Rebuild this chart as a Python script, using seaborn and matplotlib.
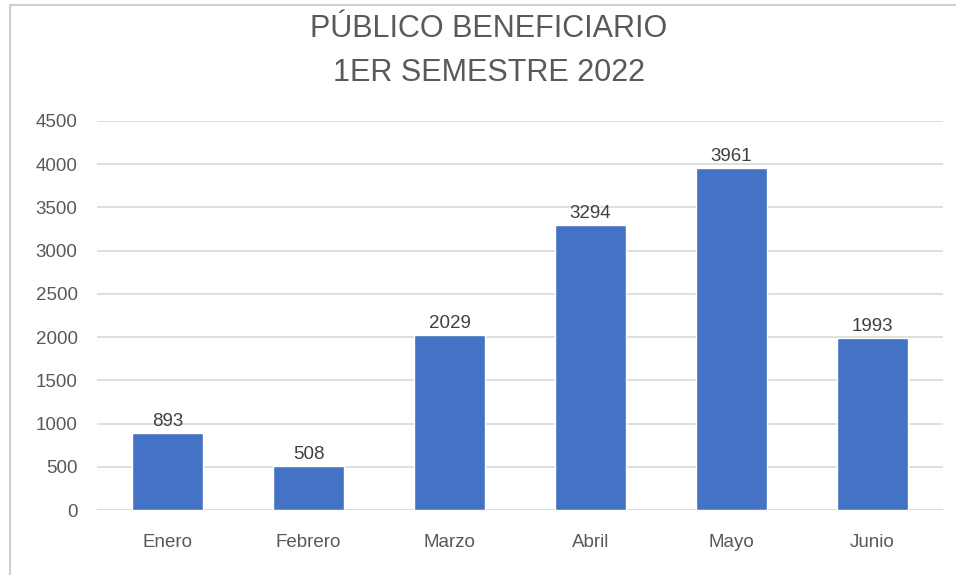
import pandas as pd
import matplotlib
matplotlib.use("Agg")
import matplotlib.pyplot as plt
import seaborn as sns
from matplotlib.lines import Line2D

# Data
meses = ["Enero", "Febrero", "Marzo", "Abril", "Mayo", "Junio"]
beneficiarios = [893, 508, 2029, 3294, 3961, 1993]
yticks = [0, 500, 1000, 1500, 2000, 2500, 3000, 3500, 4000, 4500]

df = pd.DataFrame({"Mes": meses, "Beneficiarios": beneficiarios})

sns.set_style("white")
plt.rcParams["font.family"] = ["Liberation Sans", "DejaVu Sans"]

text_color = "#595959"
grid_color = "#d9d9d9"

fig = plt.figure(figsize=(9.56, 5.75), dpi=100)
ax = fig.add_axes([0.1015, 0.113, 0.8849, 0.6766])

sns.barplot(data=df, x="Mes", y="Beneficiarios", color="#4472C4",
            width=0.5, saturation=1, ax=ax, zorder=3)

ax.set_ylim(0, 4500)
ax.set_yticks(yticks)
ax.set_xlim(-0.5, len(meses) - 0.5)
ax.yaxis.grid(True, color=grid_color, linewidth=1.2, zorder=0)
ax.set_axisbelow(True)
for s in ["top", "right", "left", "bottom"]:
    ax.spines[s].set_visible(False)
ax.axhline(0, color=grid_color, linewidth=1.2, zorder=1)

ax.tick_params(axis="y", length=0, pad=14, labelsize=13.5, labelcolor=text_color)
ax.tick_params(axis="x", length=0, pad=17, labelsize=13.5, labelcolor=text_color)
ax.set_xlabel("")
ax.set_ylabel("")

# value labels
for i, v in enumerate(beneficiarios):
    ax.annotate(f"{v}", (i, v), xytext=(0, 2), textcoords="offset points",
                ha="center", va="bottom", fontsize=13.5, color="#404040")

fig.suptitle("PÚBLICO BENEFICIARIO\n1ER SEMESTRE 2022", x=0.511, y=0.975,
             fontsize=22, color=text_color, linespacing=1.6, va="top")

# chart border (left and top edges)
x0 = 10 / 956
y0 = 1 - 5 / 575
fig.add_artist(Line2D([x0, x0], [0, y0], transform=fig.transFigure,
                      color="#cfcfcf", linewidth=1.5))
fig.add_artist(Line2D([x0, 1], [y0, y0], transform=fig.transFigure,
                      color="#cfcfcf", linewidth=1.5))

plt.savefig("out.png", dpi=100)
